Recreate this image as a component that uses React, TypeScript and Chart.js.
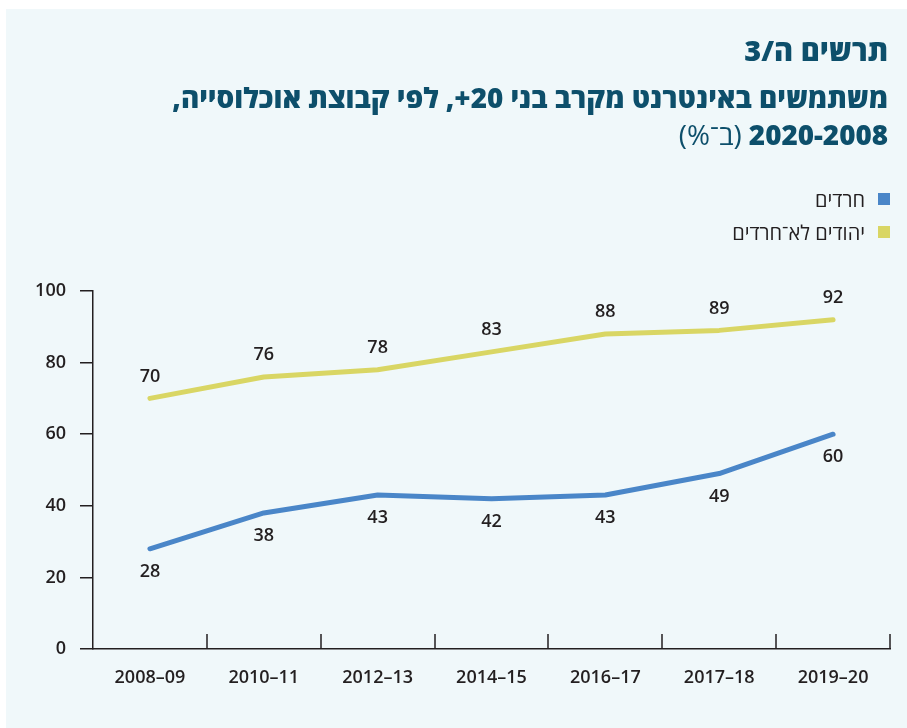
import React, { useEffect, useRef } from "react";
import { Chart, registerables } from "chart.js";

Chart.register(...registerables);

const categories = ["2008–09", "2010–11", "2012–13", "2014–15", "2016–17", "2017–18", "2019–20"];
const haredim = [28, 38, 43, 42, 43, 49, 60];
const nonHaredim = [70, 76, 78, 83, 88, 89, 92];
const seriesNames = ["חרדים", "יהודים לא־חרדים"];
const yTicks = [0, 20, 40, 60, 80, 100];

const BLUE = "#4a86c8";
const YELLOW = "#d9d664";
const INK = "#231f20";
const TITLE = "#0d4f6b";
const BG = "#f0f8fa";
const FONT = "'Open Sans', 'DejaVu Sans', sans-serif";

const valueLabels = {
  id: "valueLabels",
  afterDatasetsDraw(chart: any) {
    const ctx = chart.ctx;
    ctx.save();
    ctx.font = `600 18px ${FONT}`;
    ctx.fillStyle = INK;
    ctx.textAlign = "center";
    ctx.textBaseline = "middle";
    chart.data.datasets.forEach((ds: any, i: number) => {
      const meta = chart.getDatasetMeta(i);
      const above = ds.labelPos === "above";
      meta.data.forEach((pt: any, j: number) => {
        const y = above ? pt.y - 22 : pt.y + 23;
        ctx.fillText(String(ds.data[j]), pt.x, y);
      });
    });
    ctx.restore();
  },
};

const xTicksUp = {
  id: "xTicksUp",
  afterDraw(chart: any) {
    const ctx = chart.ctx;
    const xs = chart.scales.x;
    const bottom = chart.chartArea.bottom;
    ctx.save();
    ctx.strokeStyle = INK;
    ctx.lineWidth = 1.5;
    const n = chart.data.labels.length;
    for (let i = 1; i <= n; i++) {
      const x = Math.round((xs.getPixelForValue(i - 1) + xs.getPixelForValue(i)) / 2);
      const px = i === n ? xs.right : x;
      ctx.beginPath();
      ctx.moveTo(px, bottom);
      ctx.lineTo(px, bottom - 15);
      ctx.stroke();
    }
    ctx.restore();
  },
};

export default function App() {
  const ref = useRef<HTMLCanvasElement | null>(null);
  useEffect(() => {
    if (!ref.current) return;
    const chart = new Chart(ref.current, {
      type: "line",
      data: {
        labels: categories,
        datasets: [
          {
            label: seriesNames[0],
            data: haredim,
            borderColor: BLUE,
            backgroundColor: BLUE,
            borderWidth: 5,
            pointRadius: 0,
            borderCapStyle: "round",
            borderJoinStyle: "round",
            tension: 0,
            labelPos: "below",
          } as any,
          {
            label: seriesNames[1],
            data: nonHaredim,
            borderColor: YELLOW,
            backgroundColor: YELLOW,
            borderWidth: 5,
            pointRadius: 0,
            borderCapStyle: "round",
            borderJoinStyle: "round",
            tension: 0,
            labelPos: "above",
          } as any,
        ],
      },
      options: {
        animation: false,
        responsive: false,
        maintainAspectRatio: false,
        layout: { padding: { top: 291, right: 17, left: 0, bottom: 0 } },
        plugins: { legend: { display: false }, tooltip: { enabled: false }, title: { display: false } },
        scales: {
          x: {
            type: "category",
            offset: true,
            grid: { display: true, drawOnChartArea: false, drawTicks: false, offset: true, color: "rgba(0,0,0,0)" },
            border: { display: true, color: INK, width: 1.5 },
            ticks: { color: INK, font: { family: FONT, size: 18, weight: "600" }, padding: 18, maxRotation: 0 },
            afterFit(scale: any) {
              scale.height = 79;
            },
          },
          y: {
            min: 0,
            max: 100,
            afterBuildTicks(scale: any) {
              scale.ticks = yTicks.map((v) => ({ value: v }));
            },
            grid: { display: true, drawOnChartArea: false, drawTicks: true, tickLength: 13, color: INK, lineWidth: 1.5 },
            border: { display: true, color: INK, width: 1.5 },
            ticks: { color: INK, font: { family: FONT, size: 18, weight: "600" }, padding: 14 },
            afterFit(scale: any) {
              scale.width = 93;
            },
          },
        },
      } as any,
      plugins: [valueLabels, xTicksUp],
    });
    return () => chart.destroy();
  }, []);

  const sq = (c: string) => ({
    display: "inline-block",
    width: 12,
    height: 12,
    background: c,
    marginLeft: 13,
  });

  return (
    <div style={{ position: "fixed", left: 0, top: 0, width: 907, height: 728, background: "#ffffff" }}>
      <div style={{ position: "absolute", left: 6, top: 9, width: 901, height: 719, background: BG }} />
      <canvas ref={ref} width={907} height={728} style={{ position: "absolute", left: 0, top: 0, width: 907, height: 728 }} />
      <div
        dir="rtl"
        style={{
          position: "absolute",
          right: 19,
          top: 33,
          width: 880,
          color: TITLE,
          fontFamily: FONT,
          fontWeight: 800,
          textAlign: "right",
          whiteSpace: "nowrap",
        }}
      >
        <div style={{ fontSize: 29, lineHeight: "34px" }}>תרשים ה/3</div>
        <div style={{ fontSize: 27.8, lineHeight: "37px", marginTop: 12 }}>משתמשים באינטרנט מקרב בני 20+, לפי קבוצת אוכלוסייה,</div>
        <div style={{ fontSize: 27.8, lineHeight: "37px" }}>
          2020-2008 <span style={{ fontWeight: 500 }}>(ב־%)</span>
        </div>
      </div>
      <div
        dir="rtl"
        style={{
          position: "absolute",
          right: 17,
          top: 186,
          color: INK,
          fontFamily: FONT,
          fontSize: 20,
          textAlign: "right",
        }}
      >
        <div style={{ display: "flex", alignItems: "center", height: 26 }}>
          <span style={sq(BLUE)} />
          <span>{seriesNames[0]}</span>
        </div>
        <div style={{ display: "flex", alignItems: "center", height: 26, marginTop: 7 }}>
          <span style={sq(YELLOW)} />
          <span>{seriesNames[1]}</span>
        </div>
      </div>
    </div>
  );
}
